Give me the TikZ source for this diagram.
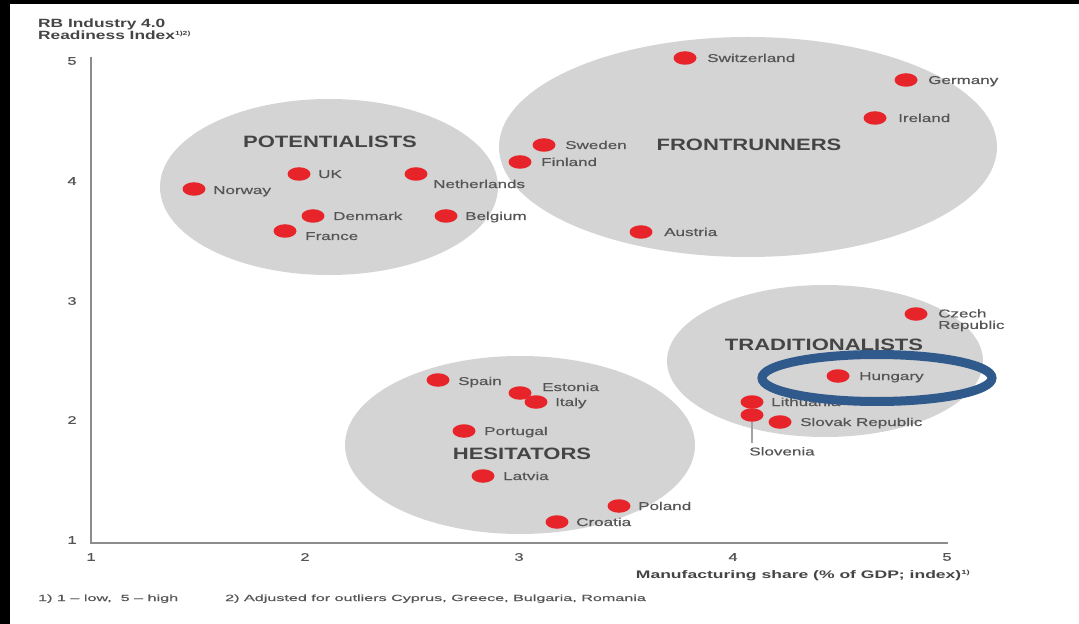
\documentclass[tikz,border=0pt]{standalone}
\usepackage{fontspec}
\setmainfont{Liberation Sans}
\newfontfamily\lblf[FakeStretch=1.5,FakeBold=0.4]{Liberation Sans}
\newfontfamily\catf[FakeStretch=1.34]{Liberation Sans}
\newfontfamily\ttlf[FakeStretch=1.45]{Liberation Sans}
\newfontfamily\axf[FakeStretch=1.6]{Liberation Sans}
\newfontfamily\ftf[FakeStretch=1.8,FakeBold=0.3]{Liberation Sans}
\usetikzlibrary{shapes.geometric}
\definecolor{blobgray}{HTML}{D4D4D4}
\definecolor{dotred}{HTML}{E62429}
\definecolor{lblgray}{HTML}{555555}
\definecolor{catgray}{HTML}{454545}
\definecolor{axgray}{HTML}{8C8C8C}
\definecolor{hlblue}{HTML}{305A8C}
\tikzset{
  blob/.style={fill=blobgray},
  dot/.style={ellipse, fill=dotred, minimum width=23bp, minimum height=13.5bp, inner sep=0pt},
  lbl/.style={inner sep=0pt, text=lblgray, font=\lblf\fontsize{11.4}{11.5}\selectfont},
  cat/.style={inner sep=0pt, text=catgray, font=\catf\bfseries\fontsize{16.5}{17}\selectfont},
  ttl/.style={inner sep=0pt, text=catgray, font=\ttlf\bfseries\fontsize{12}{12}\selectfont},
  tick/.style={inner sep=0pt, text=lblgray, font=\lblf\fontsize{11}{11}\selectfont},
  axttl/.style={inner sep=0pt, text=catgray, font=\axf\bfseries\fontsize{11}{11}\selectfont},
  foot/.style={inner sep=0pt, text=lblgray, font=\ftf\fontsize{9}{9}\selectfont},
  axis/.style={draw=axgray, line width=2bp},
  leader/.style={draw=axgray!80, line width=2bp},
  hilite/.style={draw=hlblue, line width=9bp}
}
\begin{document}
\begin{tikzpicture}[x=1bp,y=-1bp]
\useasboundingbox (0,0) rectangle (1079,624);
\fill[white] (-20,-20) rectangle (1120,660);
\fill[black] (-20,-20) rectangle (1120,4);
\fill[black] (-20,-20) rectangle (10,660);

% cluster blobs
\fill[blob] (329,187) ellipse [x radius=169bp, y radius=88bp];
\fill[blob] (748,147) ellipse [x radius=249bp, y radius=110bp];
\fill[blob] (825,361) ellipse [x radius=158bp, y radius=76bp];
\fill[blob] (520,445) ellipse [x radius=175bp, y radius=89bp];

% axes
\coordinate (ytop) at (91,57);
\coordinate (orig) at (91,543);
\coordinate (xend) at (948,543);
\draw[axis] (ytop) -- (orig) -- (xend);

% title
\node[ttl, anchor=base west] (t1) at (38,28) {RB Industry 4.0};
\node[ttl, anchor=base west] (t2) at (38,40) {Readiness Index\raisebox{0.35em}{\fontsize{6}{6}\selectfont 1)2)}};

% y ticks
\node[tick] (y5) at (72,61) {5};
\node[tick] (y4) at (72,181) {4};
\node[tick] (y3) at (72,301) {3};
\node[tick] (y2) at (72,420) {2};
\node[tick] (y1) at (72,540) {1};
% x ticks
\node[tick] (x1) at (91,557) {1};
\node[tick] (x2) at (305,557) {2};
\node[tick] (x3) at (519,557) {3};
\node[tick] (x4) at (733,557) {4};
\node[tick] (x5) at (947,557) {5};

\node[axttl, anchor=base east] (xttl) at (970,578) {Manufacturing share (\% of GDP; index)\raisebox{0.35em}{\fontsize{6}{6}\selectfont 1)}};

% footnotes
\node[foot, anchor=base west] (f1) at (38,601) {1) 1 – low,\ \ 5 – high};
\node[foot, anchor=base west] (f2) at (225,601) {2) Adjusted for outliers Cyprus, Greece, Bulgaria, Romania};

% category titles
\node[cat] (potc) at (330,142) {POTENTIALISTS};
\node[cat] (frontc) at (749,145) {FRONTRUNNERS};
\node[cat] (tradc) at (824,345) {TRADITIONALISTS};
\node[cat] (hesc) at (522,454) {HESITATORS};

% potentialists
\node[dot] (norway) at (194,189) {};
\node[lbl, anchor=base west] (norwayL) at (213,194) {Norway};
\node[dot] (uk) at (299,174) {};
\node[lbl, anchor=base west] (ukL) at (318,178) {UK};
\node[dot] (neth) at (416,174) {};
\node[lbl, anchor=base west] (nethL) at (433,188) {Netherlands};
\node[dot] (denmark) at (313,216) {};
\node[lbl, anchor=base west] (denmarkL) at (333,220) {Denmark};
\node[dot] (belgium) at (446,216) {};
\node[lbl, anchor=base west] (belgiumL) at (465,220) {Belgium};
\node[dot] (france) at (285,231) {};
\node[lbl, anchor=base west] (franceL) at (305,240) {France};

% frontrunners
\node[dot] (switz) at (685,58) {};
\node[lbl, anchor=base west] (switzL) at (707,62) {Switzerland};
\node[dot] (germany) at (906,80) {};
\node[lbl, anchor=base west] (germanyL) at (928,84) {Germany};
\node[dot] (ireland) at (875,118) {};
\node[lbl, anchor=base west] (irelandL) at (898,122) {Ireland};
\node[dot] (sweden) at (544,145) {};
\node[lbl, anchor=base west] (swedenL) at (565,149) {Sweden};
\node[dot] (finland) at (520,162) {};
\node[lbl, anchor=base west] (finlandL) at (541,166) {Finland};
\node[dot] (austria) at (641,232) {};
\node[lbl, anchor=base west] (austriaL) at (664,236) {Austria};

% traditionalists
\node[dot] (czech) at (916,314) {};
\node[lbl, anchor=north west, align=left] (czechL) at (938,309) {Czech\\Republic};
\node[dot] (hungary) at (838,376) {};
\node[lbl, anchor=base west] (hungaryL) at (859,380) {Hungary};
\node[dot] (lithuania) at (752,402) {};
\node[lbl, anchor=base west] (lithuaniaL) at (771,406) {Lithuania};
\node[dot] (slovenia) at (752,415) {};
\coordinate (slvend) at (752,443);
\draw[leader] (slovenia.south) -- (slvend);
\node[lbl, anchor=north] (sloveniaL) at (782,447) {Slovenia};
\node[dot] (slovak) at (780,422) {};
\node[lbl, anchor=base west] (slovakL) at (800,426) {Slovak Republic};

% hesitators
\node[dot] (spain) at (438,380) {};
\node[lbl, anchor=base west] (spainL) at (458,385) {Spain};
\node[dot] (estonia) at (520,393) {};
\node[lbl, anchor=base west] (estoniaL) at (542,391) {Estonia};
\node[dot] (italy) at (536,402) {};
\node[lbl, anchor=base west] (italyL) at (555,406) {Italy};
\node[dot] (portugal) at (464,431) {};
\node[lbl, anchor=base west] (portugalL) at (484,435) {Portugal};
\node[dot] (latvia) at (483,476) {};
\node[lbl, anchor=base west] (latviaL) at (503,480) {Latvia};
\node[dot] (poland) at (619,506) {};
\node[lbl, anchor=base west] (polandL) at (638,510) {Poland};
\node[dot] (croatia) at (557,522) {};
\node[lbl, anchor=base west] (croatiaL) at (576,526) {Croatia};

% highlight
\draw[hilite] (877,378) ellipse [x radius=115bp, y radius=23.5bp];
\end{tikzpicture}
\end{document}
